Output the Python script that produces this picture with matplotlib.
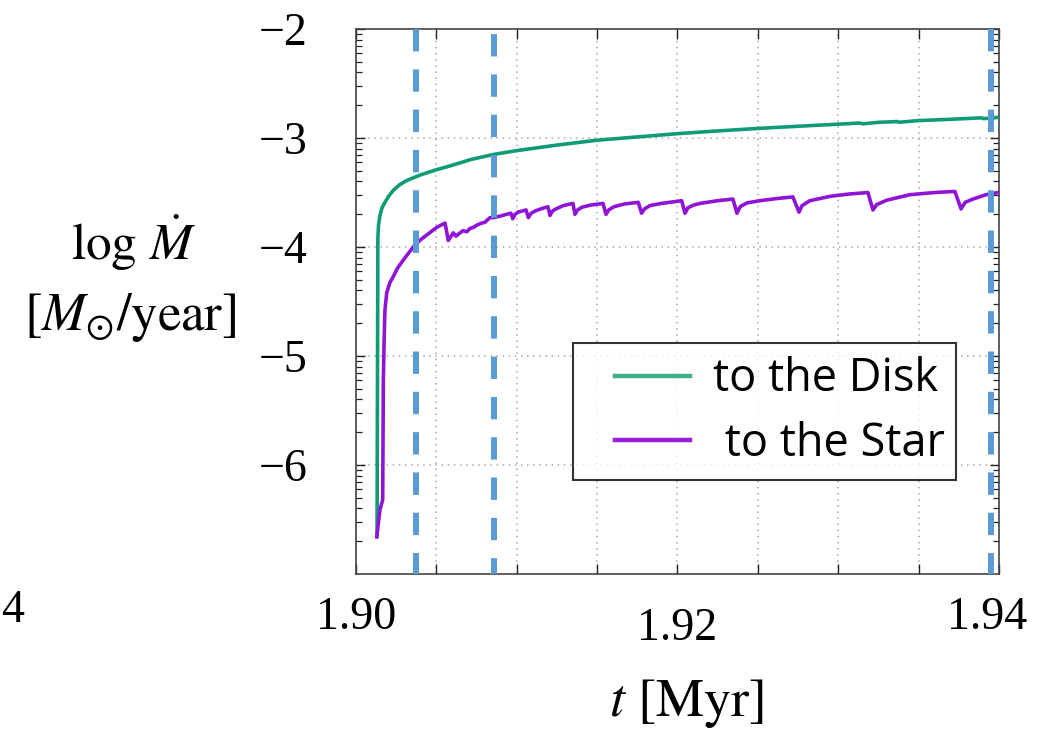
import matplotlib
matplotlib.use('Agg')
import matplotlib.pyplot as plt
from matplotlib.lines import Line2D
from matplotlib.legend_handler import HandlerLine2D
import numpy as np

# ── Data ───────────────────────────────────────────────────────────────────────
disk_t = [1.90131, 1.90134, 1.90136, 1.90140, 1.90149, 1.90162, 1.90180, 1.90205,
          1.90232, 1.90270, 1.90315, 1.90398, 1.90502, 1.90564, 1.90720, 1.90858,
          1.91002, 1.91250, 1.91500, 1.91750, 1.92000, 1.92250, 1.92500, 1.92750,
          1.93000, 1.93135, 1.93150, 1.93250, 1.93366, 1.93380, 1.93500, 1.93700,
          1.93890, 1.93905, 1.94000]
disk_y = [-6.65, -5.00, -3.92, -3.80, -3.71, -3.64, -3.59, -3.53,
          -3.48, -3.43, -3.39, -3.34, -3.29, -3.265, -3.195, -3.15,
          -3.115, -3.065, -3.02, -2.99, -2.96, -2.935, -2.912, -2.892,
          -2.873, -2.862, -2.870, -2.856, -2.849, -2.855, -2.84, -2.828,
          -2.815, -2.822, -2.81]

star_t = [1.90129, 1.90149, 1.90166, 1.90168, 1.90170, 1.90175, 1.90180, 1.90191,
          1.90210, 1.90232, 1.90260, 1.90294, 1.90330, 1.90367, 1.90400, 1.90440,
          1.90502, 1.90554,
          1.90574, 1.90605, 1.90622, 1.90647, 1.90666, 1.90689, 1.90709, 1.90730,
          1.90751, 1.90782, 1.90800, 1.90834, 1.90857, 1.90900, 1.90937, 1.90964,
          1.90975, 1.90990, 1.91008, 1.91058,
          1.91072, 1.91090, 1.91114, 1.91150, 1.91194,
          1.91207, 1.91222, 1.91244, 1.91290, 1.91350,
          1.91362, 1.91378, 1.91406, 1.91460, 1.91537,
          1.91555, 1.91572, 1.91605, 1.91670, 1.91756,
          1.91777, 1.91795, 1.91829, 1.91900, 1.92026,
          1.92047, 1.92065, 1.92100, 1.92140, 1.92250, 1.92345,
          1.92370, 1.92390, 1.92432, 1.92513, 1.92620, 1.92718,
          1.92756, 1.92775, 1.92824, 1.92949, 1.93060, 1.93185,
          1.93216, 1.93240, 1.93303, 1.93446, 1.93600, 1.93726,
          1.93764, 1.93790, 1.93838, 1.93920, 1.93994]
star_y = [-6.66, -6.41, -6.32, -5.80, -5.22, -4.85, -4.58, -4.42,
          -4.33, -4.27, -4.19, -4.12, -4.05, -3.98, -3.935, -3.89,
          -3.82, -3.78,
          -3.94, -3.87, -3.90, -3.87, -3.85, -3.86, -3.83, -3.82,
          -3.80, -3.78, -3.775, -3.73, -3.73, -3.715, -3.70, -3.69,
          -3.74, -3.70, -3.68, -3.66,
          -3.73, -3.69, -3.67, -3.65, -3.63,
          -3.71, -3.67, -3.65, -3.62, -3.60,
          -3.70, -3.66, -3.635, -3.615, -3.60,
          -3.70, -3.66, -3.63, -3.605, -3.59,
          -3.69, -3.65, -3.62, -3.60, -3.575,
          -3.69, -3.64, -3.615, -3.60, -3.575, -3.56,
          -3.69, -3.63, -3.595, -3.575, -3.555, -3.54,
          -3.68, -3.62, -3.575, -3.535, -3.515, -3.50,
          -3.66, -3.61, -3.57, -3.52, -3.50, -3.49,
          -3.65, -3.59, -3.56, -3.52, -3.50]

mark_t = [1.90373, 1.90857, 1.93950]
mark_phase = [0.0, 5.9, 0.0]

x_ticks = [1.900, 1.905, 1.910, 1.915, 1.920, 1.925, 1.930, 1.935, 1.940]
y_ticks = [-6, -5, -4, -3, -2]
y_labels = ['\u22126', '\u22125', '\u22124', '\u22123', '\u22122']
x_labels = [(1.900, -0.081, '1.90'), (1.920, -0.101, '1.92'), (1.93925, -0.081, '1.94')]

GREEN = '#0f9c74'
PURPLE = '#9014d6'
BLUE = '#5b9bd5'
TICK_FS = 33

plt.rcParams['mathtext.fontset'] = 'stix'

fig = plt.figure(figsize=(10.48, 7.33), dpi=100)
ax = fig.add_axes([0.3397, 0.2169, 0.6135, 0.7435])

ax.plot(disk_t, disk_y, color=GREEN, lw=2.6, zorder=3)
ax.plot(star_t, star_y, color=PURPLE, lw=2.6, zorder=3)
for t, ph in zip(mark_t, mark_phase):
    ax.plot([t, t], [-2, -7], color=BLUE, lw=4.3,
            linestyle=(ph, (3.75, 3.0)), zorder=4)

ax.set_xlim(1.90, 1.94)
ax.set_ylim(-7, -2)

ax.set_xticks(x_ticks)
ax.set_xticklabels([''] * len(x_ticks))
ax.set_yticks(y_ticks)
ax.set_yticklabels(y_labels, family='Liberation Serif', fontsize=TICK_FS)
minor = [n + np.log10(k) for n in range(-7, -2) for k in range(2, 10)]
ax.set_yticks(minor, minor=True)

ax.tick_params(axis='x', which='major', direction='in', length=7.2, width=1.0,
               top=True, bottom=True, labelbottom=False, color='#222222')
ax.tick_params(axis='y', which='major', direction='in', length=6.5, width=1.0,
               left=True, right=True, pad=35, color='#222222')
ax.tick_params(axis='y', which='minor', direction='in', length=4.0, width=0.9,
               left=True, right=True, color='#222222')

for s in ax.spines.values():
    s.set_linewidth(1.2)
    s.set_color('#444444')

ax.grid(True, which='major', color='#a8a8a8', lw=1.1, linestyle=(0, (1, 3)))
ax.set_axisbelow(True)

for t, yy, lab in x_labels:
    ax.text(t, yy, lab, transform=ax.get_xaxis_transform(), ha='center', va='center',
            family='Liberation Serif', fontsize=TICK_FS)
fig.text(13 / 1048, 1 - 611 / 733, '4', ha='center', va='center',
         family='Liberation Serif', fontsize=TICK_FS)

fig.text(133 / 1048, 1 - 243 / 733, r'$\log\,\dot{M}$', ha='center', va='center', fontsize=37)
fig.text(130 / 1048, 1 - 318 / 733, r'$[M_{\odot}/\mathrm{year}]$', ha='center', va='center',
         fontsize=38)
fig.text(686 / 1048, 1 - 704 / 733, r'$t\ [\mathrm{Myr}]$', ha='center', va='center',
         fontsize=39)

h_disk = Line2D([], [], color='#3ab08f', lw=3.2)
h_star = Line2D([], [], color='#9b1ddb', lw=3.2)
leg = ax.legend([h_disk, h_star], ['to the Disk', ' to the Star'], loc='upper left',
                bbox_to_anchor=(0.3375, 0.174, 0.5955, 0.25), mode='expand',
                prop={'family': 'Open Sans', 'size': 32.5}, frameon=True, fancybox=False,
                borderpad=0.3, labelspacing=0.4, handlelength=2.29, handletextpad=0.51,
                borderaxespad=0,
                handler_map={Line2D: HandlerLine2D(xpad=0.64)})
leg.get_frame().set_edgecolor('black')
leg.get_frame().set_linewidth(1.5)
leg.set_zorder(5)

fig.savefig('out.png', dpi=100)
